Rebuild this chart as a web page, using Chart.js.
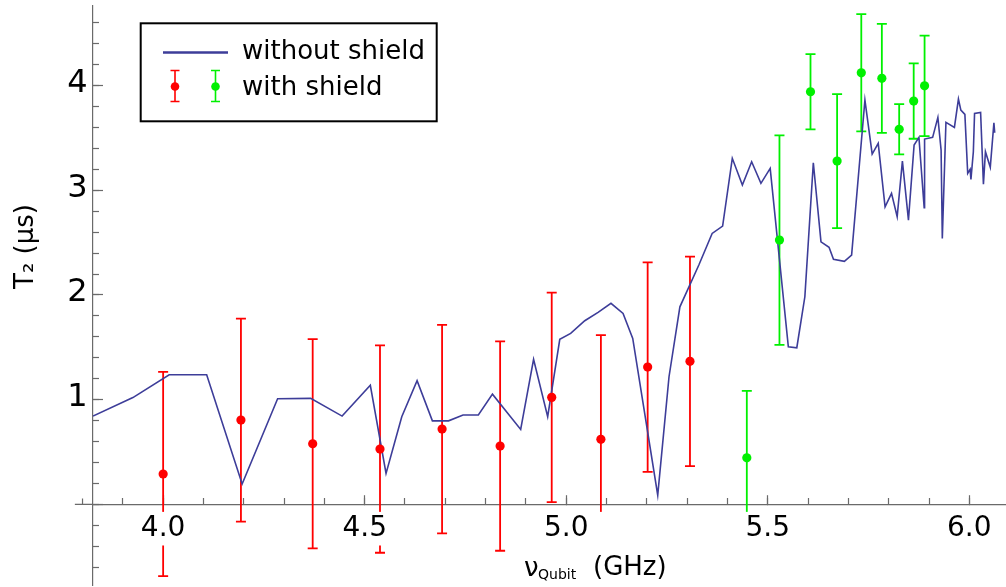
<!DOCTYPE html>
<html>
<head>
<meta charset="utf-8">
<title>T2 vs qubit frequency</title>
<script src="https://cdn.jsdelivr.net/npm/chart.js@4.4.1/dist/chart.umd.min.js"></script>
<style>
  html, body { margin: 0; padding: 0; background: #fff; }
</style>
</head>
<body>
<canvas id="t2Chart" width="1006" height="587"></canvas>
<script>
// frequency sweep without shield (GHz, us)
var sweepFreq = [3.826, 3.925, 4.015, 4.108, 4.196, 4.284, 4.366, 4.444, 4.514, 4.553,
  4.592, 4.630, 4.668, 4.708, 4.744, 4.782, 4.817, 4.887, 4.919, 4.954,
  4.984, 5.011, 5.046, 5.079, 5.111, 5.141, 5.165, 5.227, 5.255, 5.282,
  5.329, 5.362, 5.388, 5.412, 5.437, 5.460, 5.483, 5.506, 5.551, 5.572,
  5.592, 5.613, 5.632, 5.652, 5.663, 5.690, 5.708, 5.741, 5.759, 5.774,
  5.791, 5.807, 5.821, 5.834, 5.849, 5.863, 5.875, 5.888, 5.889, 5.909,
  5.922, 5.930, 5.933, 5.942, 5.963, 5.973, 5.979, 5.989, 5.996, 6.002,
  6.004, 6.010, 6.013, 6.028, 6.035, 6.040, 6.052, 6.061, 6.063];
var sweepT2 = [0.843, 1.02, 1.238, 1.238, 0.194, 1.009, 1.012, 0.843, 1.137, 0.296,
  0.837, 1.181, 0.798, 0.798, 0.853, 0.853, 1.053, 0.716, 1.385, 0.837,
  1.576, 1.633, 1.754, 1.834, 1.92, 1.824, 1.585, 0.089, 1.219, 1.887,
  2.286, 2.588, 2.658, 3.305, 3.05, 3.272, 3.066, 3.209, 1.505, 1.496,
  1.983, 3.263, 2.508, 2.455, 2.34, 2.321, 2.381, 3.862, 3.346, 3.448,
  2.842, 2.97, 2.747, 3.279, 2.715, 3.432, 3.505, 2.833, 3.489, 3.505,
  3.696, 3.384, 2.54, 3.649, 3.601, 3.871, 3.766, 3.725, 3.161, 3.2,
  3.104, 3.368, 3.734, 3.744, 3.059, 3.368, 3.219, 3.645, 3.549];

// with shield, first run (red)
var redFreq = [4.0, 4.193, 4.371, 4.538, 4.692, 4.836, 4.964, 5.086, 5.202, 5.307];
var redT2 = [0.29, 0.805, 0.579, 0.528, 0.719, 0.557, 1.022, 0.621, 1.311, 1.366];
var redErr = [0.975, 0.97, 1.0, 0.99, 0.995, 1.0, 1.0, 0.995, 1.0, 1.0];

// with shield, second run (green)
var greenFreq = [5.448, 5.529, 5.606, 5.672, 5.732, 5.783, 5.826, 5.862, 5.889];
var greenT2 = [0.445, 2.524, 3.941, 3.279, 4.122, 4.069, 3.582, 3.852, 3.998];
var greenErr = [0.64, 1.0, 0.36, 0.64, 0.56, 0.52, 0.24, 0.36, 0.48];

// axis ranges and tick steps
var xRange = [3.826, 6.091];
var yRange = [-0.77, 4.76];
var xSteps = [0.5, 0.1];
var ySteps = [1, 0.2];

var BLUE = 'rgb(61, 61, 153)';
var RED = 'rgb(255, 0, 0)';
var GREEN = 'rgb(0, 240, 0)';
var AXIS = '#6a6a6a';
var FONT = '"DejaVu Sans", sans-serif';

Chart.defaults.font.family = FONT;

function toPoints(xs, ys) {
  return xs.map(function (x, i) { return { x: x, y: ys[i] }; });
}

// keep axes from pushing the plot area around
function noEdgePadding(scale) {
  scale.paddingLeft = 0;
  scale.paddingRight = 0;
  scale.paddingTop = 0;
  scale.paddingBottom = 0;
}

var errorBars = {
  id: 'errorBars',
  beforeDatasetsDraw: function (chart) {
    var ctx = chart.ctx;
    var xs = chart.scales.x, ys = chart.scales.y;
    chart.data.datasets.forEach(function (ds) {
      if (!ds.errors) return;
      ctx.save();
      ctx.strokeStyle = ds.backgroundColor;
      ctx.lineWidth = 1.8;
      ds.data.forEach(function (p, i) {
        var px = xs.getPixelForValue(p.x);
        var top = ys.getPixelForValue(p.y + ds.errors[i]);
        var bot = ys.getPixelForValue(p.y - ds.errors[i]);
        ctx.beginPath();
        ctx.moveTo(px, top); ctx.lineTo(px, bot);
        ctx.moveTo(px - 5, top); ctx.lineTo(px + 5, top);
        ctx.moveTo(px - 5, bot); ctx.lineTo(px + 5, bot);
        ctx.stroke();
      });
      ctx.restore();
    });
  }
};

// short piece of the frequency axis left of the T2 axis
var axisStub = {
  id: 'axisStub',
  beforeDatasetsDraw: function (chart) {
    var ctx = chart.ctx;
    var xs = chart.scales.x;
    var y0 = chart.scales.y.getPixelForValue(0);
    var tickX = xs.getPixelForValue(3.8);
    ctx.save();
    ctx.strokeStyle = AXIS;
    ctx.lineWidth = 1.2;
    ctx.beginPath();
    ctx.moveTo(xs.getPixelForValue(3.781), y0);
    ctx.lineTo(chart.chartArea.left, y0);
    ctx.moveTo(tickX, y0);
    ctx.lineTo(tickX, y0 - 6);
    ctx.stroke();
    ctx.restore();
  }
};

function drawErrIcon(ctx, x, y, color) {
  ctx.strokeStyle = color;
  ctx.fillStyle = color;
  ctx.lineWidth = 1.6;
  ctx.beginPath();
  ctx.moveTo(x, y - 16); ctx.lineTo(x, y + 15);
  ctx.moveTo(x - 4.5, y - 16); ctx.lineTo(x + 4.5, y - 16);
  ctx.moveTo(x - 4.5, y + 15); ctx.lineTo(x + 4.5, y + 15);
  ctx.stroke();
  ctx.beginPath();
  ctx.arc(x, y, 4.3, 0, Math.PI * 2);
  ctx.fill();
}

var legendAndTitles = {
  id: 'legendAndTitles',
  afterDraw: function (chart) {
    var ctx = chart.ctx;
    ctx.save();

    // legend
    ctx.strokeStyle = '#000';
    ctx.lineWidth = 2;
    ctx.strokeRect(140.7, 23.3, 296, 98);
    ctx.strokeStyle = BLUE;
    ctx.lineWidth = 2.6;
    ctx.beginPath();
    ctx.moveTo(163, 52.5);
    ctx.lineTo(228, 52.5);
    ctx.stroke();
    drawErrIcon(ctx, 175, 86.5, RED);
    drawErrIcon(ctx, 215.5, 86.5, GREEN);
    ctx.fillStyle = '#000';
    ctx.font = '26px ' + FONT;
    ctx.textBaseline = 'middle';
    ctx.textAlign = 'left';
    ctx.fillText('without shield', 242, 52);
    ctx.fillText('with shield', 242, 88);

    // axis titles
    ctx.textBaseline = 'alphabetic';
    ctx.font = '26px ' + FONT;
    ctx.fillText('\u03BD', 524, 576);
    ctx.fillText('(GHz)', 593, 575);
    ctx.font = '14px ' + FONT;
    ctx.fillText('Qubit', 538, 579);

    ctx.translate(32.5, 289);
    ctx.rotate(-Math.PI / 2);
    ctx.font = '26px ' + FONT;
    ctx.fillText('T\u2082 (\u03BCs)', 0, 0);
    ctx.restore();
  }
};

var ctx = document.getElementById('t2Chart').getContext('2d');
new Chart(ctx, {
  type: 'scatter',
  data: {
    datasets: [{
      label: 'with shield',
      data: toPoints(redFreq, redT2),
      errors: redErr,
      backgroundColor: RED,
      pointRadius: 4.6,
      pointBorderWidth: 0,
      order: 1
    }, {
      label: 'with shield',
      data: toPoints(greenFreq, greenT2),
      errors: greenErr,
      backgroundColor: GREEN,
      pointRadius: 4.6,
      pointBorderWidth: 0,
      order: 1
    }, {
      label: 'without shield',
      data: toPoints(sweepFreq, sweepT2),
      showLine: true,
      borderColor: BLUE,
      borderWidth: 1.6,
      pointRadius: 0,
      tension: 0,
      order: 2
    }]
  },
  options: {
    responsive: false,
    animation: false,
    devicePixelRatio: 1,
    layout: { autoPadding: false, padding: { top: 6, bottom: 2, left: 0, right: 0 } },
    plugins: {
      legend: { display: false },
      tooltip: { enabled: false }
    },
    scales: {
      x: {
        type: 'linear',
        position: { y: 0 },
        min: xRange[0],
        max: xRange[1],
        afterFit: noEdgePadding,
        border: { color: AXIS, width: 1.2 },
        grid: { drawOnChartArea: false, tickLength: -10, tickColor: AXIS, tickWidth: 1.2 },
        ticks: {
          stepSize: xSteps[0],
          includeBounds: false,
          autoSkip: false,
          maxRotation: 0,
          padding: 17.5,
          color: '#000',
          font: { size: 28 },
          showLabelBackdrop: true,
          backdropColor: '#fff',
          backdropPadding: { x: 20, y: 0 },
          z: 1,
          callback: function (v) { return v.toFixed(1); }
        }
      },
      xMinor: {
        type: 'linear',
        axis: 'x',
        position: { y: 0 },
        min: xRange[0],
        max: xRange[1],
        afterFit: noEdgePadding,
        border: { display: false },
        grid: { drawOnChartArea: false, tickLength: -6, tickColor: AXIS, tickWidth: 1.2 },
        ticks: { stepSize: xSteps[1], includeBounds: false, display: false }
      },
      y: {
        type: 'linear',
        position: 'left',
        weight: 1,
        min: yRange[0],
        max: yRange[1],
        afterFit: function (scale) { noEdgePadding(scale); scale.width = 93; },
        border: { color: AXIS, width: 1.2 },
        grid: { drawOnChartArea: false, tickLength: -10, tickColor: AXIS, tickWidth: 1.2 },
        ticks: {
          stepSize: ySteps[0],
          includeBounds: false,
          padding: 15.5,
          labelOffset: -2,
          color: '#000',
          font: { size: 32 },
          z: 1,
          callback: function (v) { return v === 0 ? '' : String(v); }
        }
      },
      yMinor: {
        type: 'linear',
        axis: 'y',
        position: 'left',
        weight: 0,
        min: yRange[0],
        max: yRange[1],
        afterFit: function (scale) { noEdgePadding(scale); scale.width = 0; },
        border: { display: false },
        grid: { drawOnChartArea: false, tickLength: -6, tickColor: AXIS, tickWidth: 1.2 },
        ticks: { stepSize: ySteps[1], includeBounds: false, display: false }
      }
    }
  },
  plugins: [errorBars, axisStub, legendAndTitles]
});
</script>
</body>
</html>
